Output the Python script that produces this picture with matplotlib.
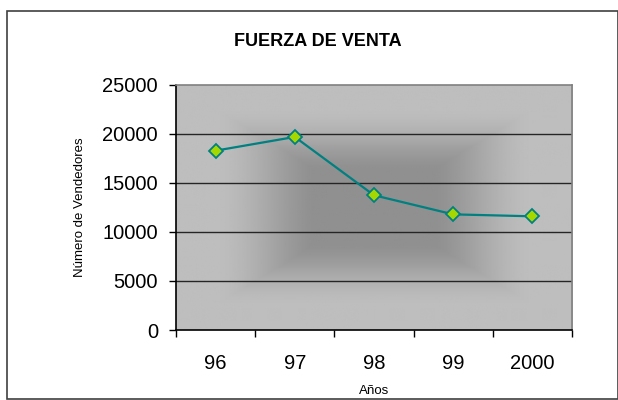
import numpy as np
import matplotlib
matplotlib.use("Agg")
from matplotlib import pyplot as plt
from matplotlib.patches import Rectangle

# datos
anios = ["96", "97", "98", "99", "2000"]
vendedores = [18300, 19700, 13750, 11800, 11600]
y_ticks = [0, 5000, 10000, 15000, 20000, 25000]

plt.rcParams["font.family"] = ["Liberation Sans", "DejaVu Sans"]

fig = plt.figure(figsize=(6.18, 4.0), dpi=100)
fig.patch.set_facecolor("white")

# marco exterior del grafico
fig.patches.append(Rectangle((7 / 618, 1 / 400), 611 / 618, 388 / 400,
                             transform=fig.transFigure, fill=False,
                             edgecolor="#404040", linewidth=1.2))

ax = fig.add_axes([176 / 618, 70 / 400, 396 / 618, 245 / 400])

# fondo degradado rectangular (oscuro en el centro)
u = np.linspace(-1, 1, 400)
v = np.linspace(-1, 1, 250)
U, V = np.meshgrid(u, v)
t = np.maximum(np.abs(U), np.abs(V))
t = np.clip((t - 0.3) / 0.52, 0, 1)
t = t * t * (3 - 2 * t)
t = t ** 0.8
oscuro, claro = 0.565, 0.745
grad = oscuro + (claro - oscuro) * t
ax.imshow(grad, cmap="gray", vmin=0, vmax=1, aspect="auto",
          extent=[-0.5, len(anios) - 0.5, 0, 25000], zorder=0,
          interpolation="bilinear")

x = np.arange(len(anios))
ax.plot(x, vendedores, color="#008080", linewidth=1.6, zorder=3,
        marker="D", markersize=7.5, markerfacecolor="#a6d800",
        markeredgecolor="#008080", markeredgewidth=1.3)

ax.set_xlim(-0.5, len(anios) - 0.5)
ax.set_ylim(0, 25000)
ax.set_yticks(y_ticks)
ax.set_yticklabels([str(v) for v in y_ticks], fontsize=14.5)
for yv in y_ticks[1:-1]:
    ax.axhline(yv, color="#252525", linewidth=1.0, zorder=1)

# ticks del eje x entre categorias
ax.set_xticks(np.arange(-0.5, len(anios) - 0.4, 1.0))
ax.set_xticklabels([])
ax.set_xticks(x, minor=True)
ax.set_xticklabels(anios, minor=True, fontsize=14.5)
ax.tick_params(axis="x", which="minor", length=0, pad=17)
ax.tick_params(axis="x", which="major", length=5, width=1, color="black")
ax.tick_params(axis="y", length=5, width=1, color="black", pad=8)

ax.spines["left"].set_color("black")
ax.spines["bottom"].set_color("black")
ax.spines["top"].set_color("#808080")
ax.spines["right"].set_color("#808080")
for s in ax.spines.values():
    s.set_linewidth(1.2)

ax.set_xlabel("Años", fontsize=9.5, labelpad=9)
ax.set_ylabel("Número de Vendedores", fontsize=9.5, labelpad=12)
fig.text(318 / 618, 1 - 42 / 400, "FUERZA DE VENTA", ha="center", va="center",
         fontsize=13, fontweight="bold")

fig.savefig("out.png", dpi=100)
